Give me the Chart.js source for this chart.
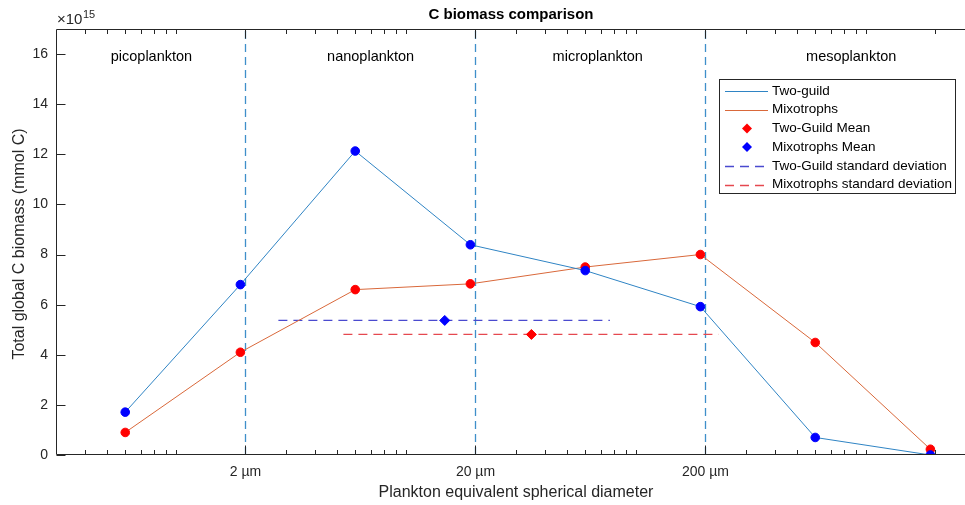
<!DOCTYPE html>
<html>
<head>
<meta charset="utf-8">
<script src="https://cdn.jsdelivr.net/npm/chart.js@4.4.0/dist/chart.umd.min.js"></script>
<style>
  html, body { margin: 0; padding: 0; background: #fff; overflow: hidden; }
  #wrap { width: 990px; height: 505px; }
</style>
</head>
<body>
<div id="wrap"><canvas id="myChart" width="990" height="505"></canvas></div>
<script>
// Datos (biomasa en unidades de 1e15 mmol C, diametro en µm)
const diametros = [0.6, 1.9, 6, 19, 60, 190, 600, 1900];
const twoGuild = [1.71, 6.8, 12.13, 8.39, 7.36, 5.92, 0.7, 0.0];
const mixotrophs = [0.9, 4.1, 6.6, 6.83, 7.5, 8.0, 4.49, 0.23];
const twoGuildMean = [35, 4.81]; // [x, y]
const mixotrophsMean = [14.7, 5.37];
const twoGuildStd = [2.78, 76.8, 5.37]; // [x desde, x hasta, y]
const mixotrophsStd = [5.33, 228, 4.81];
const limites = [2, 20, 200];
const regiones = ["picoplankton", "nanoplankton", "microplankton", "mesoplankton"];
const regionesX = [0.78, 7, 68, 860];
const regionY = 15.9;

// Ticks
const xTicksMayores = [2, 20, 200];
const xTicksMenores = [0.4, 0.5, 0.6, 0.7, 0.8, 0.9, 1, 3, 4, 5, 6, 7, 8, 9, 10,
  30, 40, 50, 60, 70, 80, 90, 100, 300, 400, 500, 600, 700, 800, 900, 1000, 2000];
const yTicks = [0, 2, 4, 6, 8, 10, 12, 14, 16];

const FUENTE = "'Liberation Sans', Arial, sans-serif";
const GRIS = "#262626";

const puntos = (xs, ys) => xs.map((x, i) => ({ x: x, y: ys[i] }));

const datasets = [
  {
    label: "Two-guild",
    data: puntos(diametros, twoGuild),
    showLine: true,
    borderColor: "#2f84c4",
    borderWidth: 1,
    pointBackgroundColor: "#0000ff",
    pointBorderColor: "#0000ff",
    pointRadius: 4.3,
    order: 1,
  },
  {
    label: "Mixotrophs",
    data: puntos(diametros, mixotrophs),
    showLine: true,
    borderColor: "#d9683a",
    borderWidth: 1,
    pointBackgroundColor: "#ff0000",
    pointBorderColor: "#ff0000",
    pointRadius: 4.3,
    order: 2,
  },
  {
    label: "Two-Guild Mean",
    data: [{ x: twoGuildMean[0], y: twoGuildMean[1] }],
    pointStyle: "rectRot",
    backgroundColor: "#ff0000",
    borderColor: "#ff0000",
    pointRadius: 5,
    order: 0,
  },
  {
    label: "Mixotrophs Mean",
    data: [{ x: mixotrophsMean[0], y: mixotrophsMean[1] }],
    pointStyle: "rectRot",
    backgroundColor: "#0000ff",
    borderColor: "#0000ff",
    pointRadius: 5,
    order: 0,
  },
  {
    label: "Two-Guild standard deviation",
    data: [{ x: twoGuildStd[0], y: twoGuildStd[2] }, { x: twoGuildStd[1], y: twoGuildStd[2] }],
    showLine: true,
    borderColor: "#4a4acf",
    borderWidth: 1.3,
    borderDash: [9, 6],
    pointRadius: 0,
    order: 3,
  },
  {
    label: "Mixotrophs standard deviation",
    data: [{ x: mixotrophsStd[0], y: mixotrophsStd[2] }, { x: mixotrophsStd[1], y: mixotrophsStd[2] }],
    showLine: true,
    borderColor: "#e5484f",
    borderWidth: 1.3,
    borderDash: [9, 6],
    pointRadius: 0,
    order: 3,
  },
];

// Lineas verticales de los limites de tamaño
for (const l of limites) {
  datasets.push({
    label: "limite",
    data: [{ x: l, y: 0 }, { x: l, y: 17 }],
    showLine: true,
    borderColor: "#3f8fca",
    borderWidth: 1.3,
    borderDash: [8, 5],
    pointRadius: 0,
    order: 4,
    enLeyenda: false,
  });
}

// Marco, ticks hacia dentro, textos y leyenda al estilo MATLAB
const estiloMatlab = {
  id: "estiloMatlab",
  afterDatasetsDraw(chart) {
    const { ctx, chartArea: a, scales } = chart;
    const x = scales.x, y = scales.y;
    ctx.save();
    ctx.strokeStyle = GRIS;
    ctx.lineWidth = 1;
    ctx.beginPath();
    const L = Math.round(a.left) + 0.5, R = Math.round(a.right) - 0.5;
    const T = Math.round(a.top) + 0.5, B = Math.round(a.bottom) - 0.5;
    ctx.moveTo(L, T); ctx.lineTo(R, T); ctx.lineTo(R, B); ctx.lineTo(L, B); ctx.closePath();
    const ticksX = (lista, largo) => {
      for (const v of lista) {
        const px = Math.round(x.getPixelForValue(v)) + 0.5;
        ctx.moveTo(px, B); ctx.lineTo(px, B - largo);
        ctx.moveTo(px, T); ctx.lineTo(px, T + largo);
      }
    };
    ticksX(xTicksMenores, 4.5);
    ticksX(xTicksMayores, 9);
    for (const v of yTicks) {
      const py = Math.round(y.getPixelForValue(v)) + 0.5;
      ctx.moveTo(L, py); ctx.lineTo(L + 9, py);
      ctx.moveTo(R, py); ctx.lineTo(R - 9, py);
    }
    ctx.stroke();

    // Nombres de las regiones
    ctx.fillStyle = "#000";
    ctx.font = "14.5px " + FUENTE;
    ctx.textAlign = "center";
    ctx.textBaseline = "middle";
    regiones.forEach((r, i) => {
      ctx.fillText(r, x.getPixelForValue(regionesX[i]), y.getPixelForValue(regionY));
    });

    // Titulo y ejes
    ctx.fillStyle = "#000";
    ctx.font = "bold 15px " + FUENTE;
    ctx.fillText("C biomass comparison", 511, 15);
    ctx.fillStyle = GRIS;
    ctx.font = "16px " + FUENTE;
    ctx.fillText("Plankton equivalent spherical diameter", 516, 493);
    ctx.save();
    ctx.translate(20, 244);
    ctx.rotate(-Math.PI / 2);
    ctx.fillText("Total global C biomass (mmol C)", 0, 0);
    ctx.restore();

    // Exponente
    ctx.textAlign = "left";
    ctx.textBaseline = "alphabetic";
    ctx.font = "15px " + FUENTE;
    ctx.fillText("\u00d710", 57, 24);
    const w10 = ctx.measureText("\u00d710").width;
    ctx.font = "11px " + FUENTE;
    ctx.fillText("15", 57 + w10 + 0.5, 18);

    // Leyenda
    const lx = 719, ly = 79, lw = 236, lh = 114;
    ctx.fillStyle = "#fff";
    ctx.fillRect(lx, ly, lw, lh);
    ctx.strokeStyle = GRIS;
    ctx.strokeRect(lx + 0.5, ly + 0.5, lw, lh);
    ctx.font = "13.5px " + FUENTE;
    ctx.textBaseline = "middle";
    const items = chart.data.datasets.filter((d) => d.enLeyenda !== false);
    items.forEach((d, i) => {
      const cy = ly + 12 + i * 18.7;
      ctx.save();
      if (d.showLine) {
        ctx.strokeStyle = d.borderColor;
        ctx.lineWidth = d.borderWidth;
        ctx.setLineDash(d.borderDash || []);
        ctx.beginPath();
        ctx.moveTo(725, Math.round(cy) + 0.5);
        ctx.lineTo(768, Math.round(cy) + 0.5);
        ctx.stroke();
      } else {
        ctx.fillStyle = d.backgroundColor;
        ctx.beginPath();
        ctx.moveTo(747, cy - 5); ctx.lineTo(752, cy);
        ctx.lineTo(747, cy + 5); ctx.lineTo(742, cy);
        ctx.closePath();
        ctx.fill();
      }
      ctx.restore();
      ctx.fillStyle = "#000";
      ctx.fillText(d.label, 772, cy);
    });
    ctx.restore();
  },
};

const grafica = document.getElementById("myChart").getContext("2d");
const myChart = new Chart(grafica, {
  type: "scatter",
  data: { datasets: datasets },
  options: {
    responsive: false,
    animation: false,
    layout: { padding: { top: 29, right: 14, left: 0, bottom: 0 } },
    plugins: { legend: { display: false }, tooltip: { enabled: false }, title: { display: false } },
    scales: {
      x: {
        type: "logarithmic",
        min: 0.3,
        max: 3000,
        afterBuildTicks: (s) => {
          s.ticks = xTicksMayores.map((v) => ({ value: v, major: true }));
        },
        afterFit: (s) => { s.height = 50; },
        grid: { display: false, drawTicks: false },
        border: { display: false },
        ticks: {
          autoSkip: false,
          maxRotation: 0,
          padding: 9,
          color: GRIS,
          font: { family: FUENTE, size: 14 },
          callback: (v) => v + " \u00b5m",
        },
      },
      y: {
        min: 0,
        max: 17,
        afterBuildTicks: (s) => {
          s.ticks = yTicks.map((v) => ({ value: v }));
        },
        afterFit: (s) => { s.width = 56; },
        grid: { display: false, drawTicks: false },
        border: { display: false },
        ticks: {
          padding: 8,
          color: GRIS,
          font: { family: FUENTE, size: 14 },
        },
      },
    },
  },
  plugins: [estiloMatlab],
});
</script>
</body>
</html>
